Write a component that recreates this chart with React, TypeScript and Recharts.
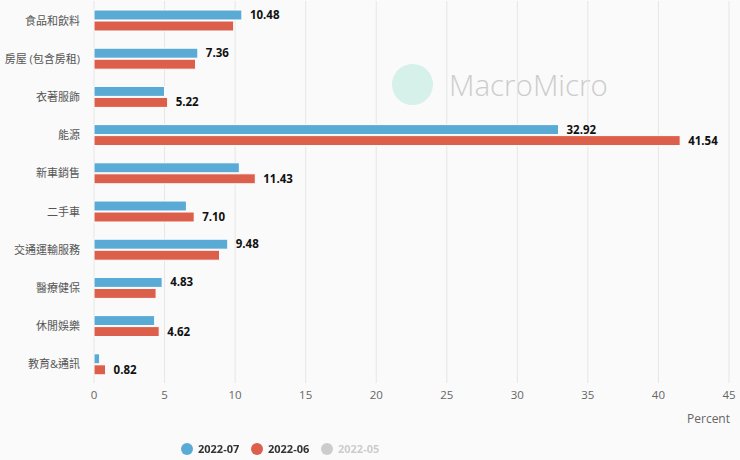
import React from "react";
import { BarChart, Bar, XAxis, YAxis, CartesianGrid, Legend, LabelList } from "recharts";

const categories = ["食品和飲料", "房屋 (包含房租)", "衣著服飾", "能源", "新車銷售", "二手車", "交通運輸服務", "醫療健保", "休閒娛樂", "教育&通訊"];
const values2207 = [10.48, 7.36, 5.0, 32.92, 10.3, 6.55, 9.48, 4.83, 4.3, 0.4];
const values2206 = [9.9, 7.2, 5.22, 41.54, 11.43, 7.1, 8.9, 4.4, 4.62, 0.82];
// which bars carry a value label in the original
const shown2207 = [true, true, false, true, false, false, true, true, false, false];
const shown2206 = [false, false, true, true, true, true, false, false, true, true];
const xTicks = [0, 5, 10, 15, 20, 25, 30, 35, 40, 45];
const legendItems = [
  { name: "2022-07", color: "#5aaad6", active: true },
  { name: "2022-06", color: "#dc5f4b", active: true },
  { name: "2022-05", color: "#cccccc", active: false },
];

const data = categories.map((c, i) => ({
  name: c,
  v07: values2207[i],
  v06: values2206[i],
  l07: shown2207[i] ? values2207[i].toFixed(2) : "",
  l06: shown2206[i] ? values2206[i].toFixed(2) : "",
}));

const font = "'Open Sans', 'Noto Sans CJK TC', sans-serif";

function CategoryTick(props: any) {
  const { x, y, payload } = props;
  return (
    <text x={x} y={y} textAnchor="end" dominantBaseline="central" fontSize={11} fill="#555" fontFamily={font}>
      {payload.value}
    </text>
  );
}

function PercentLabel(props: any) {
  const { viewBox } = props;
  return (
    <text x={viewBox.x + viewBox.width + 1} y={viewBox.y + 35} textAnchor="end" dominantBaseline="central" fontSize={12} fill="#666" fontFamily={font}>
      Percent
    </text>
  );
}

function LegendBox() {
  return (
    <div style={{ display: "flex", alignItems: "center", paddingLeft: 181, fontFamily: font }}>
      {legendItems.map((it) => (
        <div key={it.name} style={{ display: "flex", alignItems: "center", width: 70 }}>
          <span style={{ width: 12, height: 12, borderRadius: 6, background: it.color, display: "inline-block", marginRight: 5 }} />
          <span style={{ fontSize: 11, fontWeight: 700, color: it.active ? "#333" : "#cccccc" }}>{it.name}</span>
        </div>
      ))}
    </div>
  );
}

export default function App() {
  const labelStyle = { fontSize: 11.5, fontWeight: 700, fill: "#111" };
  return (
    <div style={{ position: "fixed", left: 0, top: 0, width: 740, height: 460, background: "#fafafa", fontFamily: font }}>
      <div style={{ position: "absolute", left: 392, top: 64, display: "flex", alignItems: "center" }}>
        <div style={{ width: 41, height: 41, borderRadius: 21, background: "#d6f0ea" }} />
        <span style={{ marginLeft: 16, fontSize: 29.5, color: "#cccccc", fontWeight: 300, fontFamily: "'Open Sans', sans-serif" }}>MacroMicro</span>
      </div>
      <div style={{ position: "absolute", left: 0, top: 0 }}>
        <BarChart width={740} height={460} data={data} layout="vertical" margin={{ top: 1, right: 11, left: 0, bottom: 0 }} barSize={10} barGap={1}>
          <CartesianGrid horizontal={false} stroke="#e6e6e6" />
          <XAxis
            type="number"
            domain={[0, 45]}
            ticks={xTicks}
            axisLine={false}
            tickLine={false}
            tickSize={0}
            tickMargin={8}
            height={47}
            tick={{ fontSize: 11.5, fill: "#666" }}
            label={<PercentLabel />}
          />
          <YAxis
            type="category"
            dataKey="name"
            width={94}
            axisLine={false}
            tickLine={false}
            tickSize={0}
            tickMargin={14}
            tick={<CategoryTick />}
          />
          <Legend
            verticalAlign="bottom"
            height={30}
            wrapperStyle={{ position: "absolute", left: 0, top: 441, width: 740 }}
            content={() => <LegendBox />}
          />
          <Bar dataKey="v07" fill="#5aaad6" stroke="#fff" strokeWidth={1} isAnimationActive={false}>
            <LabelList dataKey="l07" position="right" offset={8} style={labelStyle} />
          </Bar>
          <Bar dataKey="v06" fill="#dc5f4b" stroke="#fff" strokeWidth={1} isAnimationActive={false}>
            <LabelList dataKey="l06" position="right" offset={8} style={labelStyle} />
          </Bar>
        </BarChart>
      </div>
    </div>
  );
}
